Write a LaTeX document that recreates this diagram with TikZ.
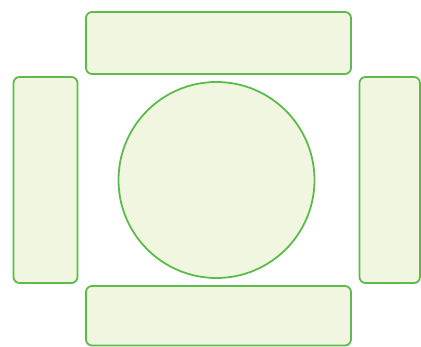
\documentclass[tikz,border=0pt]{standalone}
\definecolor{edgegreen}{HTML}{5DBB4C}
\definecolor{fillgreen}{HTML}{F0F6DF}
\begin{document}
\begin{tikzpicture}[x=1pt,y=-1pt,
  panel/.style={draw=edgegreen, fill=fillgreen, line width=1.8pt, rounded corners=6pt, rectangle, inner sep=0pt},
  disc/.style={draw=edgegreen, fill=fillgreen, line width=1.8pt, circle, inner sep=0pt}]
\useasboundingbox (0,0) rectangle (421,347);
\node[panel, minimum width=265pt, minimum height=62pt] (top) at (218.5,43) {};
\node[panel, minimum width=64pt, minimum height=206pt] (left) at (45.5,180) {};
\node[panel, minimum width=60.5pt, minimum height=206pt] (right) at (389.75,180) {};
\node[panel, minimum width=265pt, minimum height=59.5pt] (bottom) at (218.5,315.75) {};
\node[disc, minimum size=196pt] (center) at (216.5,180) {};
\end{tikzpicture}
\end{document}
